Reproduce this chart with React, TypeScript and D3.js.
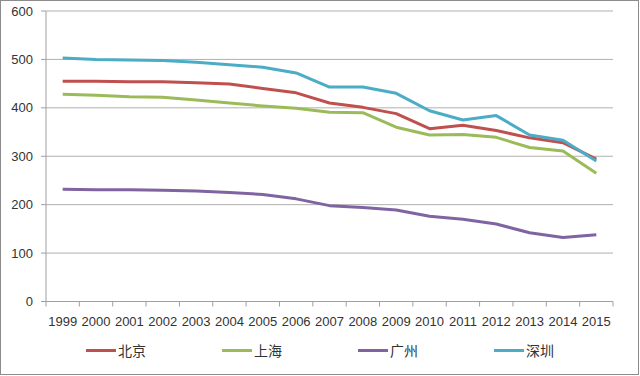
import React from "react";
import * as d3 from "d3";

const years = ["1999","2000","2001","2002","2003","2004","2005","2006","2007","2008","2009","2010","2011","2012","2013","2014","2015"];
const beijing = [455, 455, 454, 454, 452, 449, 440, 431, 410, 401, 388, 357, 364, 353, 338, 328, 294];
const shanghai = [428, 426, 423, 422, 416, 410, 404, 399, 391, 390, 360, 344, 345, 339, 318, 311, 265];
const guangzhou = [232, 231, 231, 230, 228, 225, 221, 212, 198, 194, 189, 176, 170, 160, 142, 132, 138];
const shenzhen = [503, 500, 499, 498, 494, 489, 484, 472, 443, 443, 430, 394, 375, 384, 344, 333, 290];
const seriesNames = ["北京", "上海", "广州", "深圳"];
const seriesColors = ["#C0504D", "#9BBB59", "#8064A2", "#4BACC6"];
const yTicks = [0, 100, 200, 300, 400, 500, 600];

export default function App() {
  const W = 640, H = 376;
  const left = 46, right = 613, top = 11, bottom = 301.5;
  const x = d3.scaleBand<string>().domain(years).range([left, right]).padding(0);
  const y = d3.scaleLinear().domain([0, 600]).range([bottom, top]);
  const cx = (d: string) => (x(d) as number) + x.bandwidth() / 2;
  const allSeries = [beijing, shanghai, guangzhou, shenzhen];
  const line = d3.line<number>().x((_, i) => cx(years[i])).y((v) => y(v));
  const boundaries = years.map((d) => x(d) as number).concat([right]);
  const legendX = [86, 222, 358, 494];
  const font = "'Liberation Sans', Arial, sans-serif";
  return (
    <svg width={W} height={H} style={{ position: "absolute", left: 0, top: 0, display: "block" }}>
      <rect x={0.5} y={0.5} width={W - 2} height={H - 2} fill="#fff" stroke="#8c8c8c" strokeWidth={1} />
      {yTicks.map((t) => (
        <g key={t}>
          {t > 0 && <line x1={left} x2={right} y1={y(t)} y2={y(t)} stroke="#b0b0b0" strokeWidth={1} />}
          <line x1={left - 5} x2={left} y1={y(t)} y2={y(t)} stroke="#a0a0a0" strokeWidth={1} />
          <text x={33} y={y(t)} dy="0.35em" textAnchor="end" fontFamily={font} fontSize={13} fill="#333">{t}</text>
        </g>
      ))}
      <line x1={left} x2={left} y1={top} y2={bottom} stroke="#a0a0a0" strokeWidth={1} />
      <line x1={left} x2={right} y1={bottom} y2={bottom} stroke="#a0a0a0" strokeWidth={1} />
      {boundaries.map((b, i) => (
        <line key={i} x1={b} x2={b} y1={bottom} y2={bottom + 5} stroke="#a0a0a0" strokeWidth={1} />
      ))}
      {years.map((yr) => (
        <text key={yr} x={cx(yr)} y={326} textAnchor="middle" fontFamily={font} fontSize={13} fill="#333">{yr}</text>
      ))}
      {allSeries.map((s, i) => (
        <path key={i} d={line(s) || ""} fill="none" stroke={seriesColors[i]} strokeWidth={3} strokeLinejoin="round" />
      ))}
      {seriesNames.map((n, i) => (
        <g key={n}>
          <line x1={legendX[i]} x2={legendX[i] + 30} y1={350.5} y2={350.5} stroke={seriesColors[i]} strokeWidth={3} />
          <text x={legendX[i] + 32} y={350.5} dy="0.36em" fontFamily="'Noto Sans CJK SC', sans-serif" fontSize={14} fill="#333">{n}</text>
        </g>
      ))}
    </svg>
  );
}
